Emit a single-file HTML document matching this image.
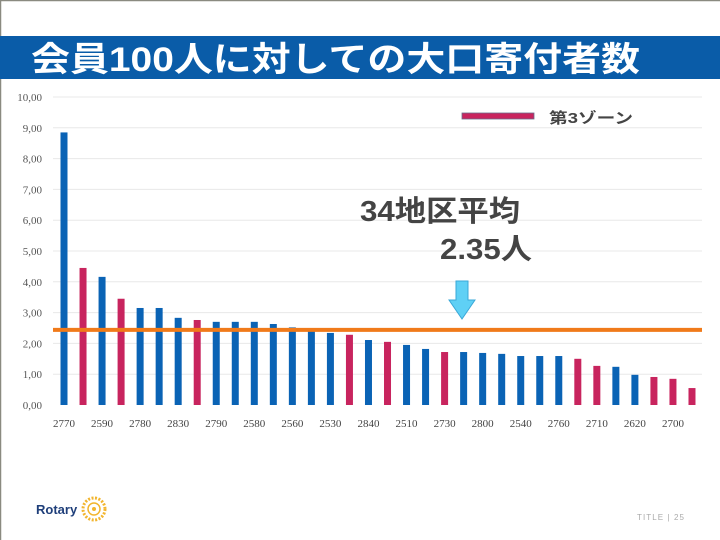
<!DOCTYPE html>
<html><head><meta charset="utf-8"><style>
html,body{margin:0;padding:0;background:#fff;}
svg{display:block;font-family:"Liberation Sans","Noto Sans CJK JP",sans-serif;}
</style></head><body>
<svg id="chart" width="720" height="540" viewBox="0 0 720 540">
<rect x="0" y="0" width="720" height="540" fill="#fff"/>
<line x1="0" y1="0.5" x2="720" y2="0.5" stroke="#8a8a80" stroke-width="1.5"/>
<line x1="0.5" y1="0" x2="0.5" y2="540" stroke="#8a8a80" stroke-width="1.5"/>
<rect x="0" y="36" width="720" height="43" fill="#0a5ca8"/>
<text x="31" y="71" fill="#fff" font-size="34" font-weight="bold" textLength="609" lengthAdjust="spacingAndGlyphs">会員100人に対しての大口寄付者数</text>
<g id="grid"></g>
<g id="bars"></g>
<g id="xlabels"></g>
<line id="avgline" stroke="#f07a1a" stroke-width="4"/>
<line x1="462" y1="116" x2="534" y2="116" stroke="#c8245e" stroke-width="6"/>
<rect x="462" y="113" width="72" height="6" fill="none" stroke="#6b6b8a" stroke-width="0.8"/>
<text x="549" y="123" font-size="15" font-weight="bold" fill="#444" textLength="84" lengthAdjust="spacingAndGlyphs">第3ゾーン</text>
<text x="360" y="221" font-size="29" font-weight="bold" fill="#444" textLength="160" lengthAdjust="spacingAndGlyphs">34地区平均</text>
<text x="440" y="259" font-size="29" font-weight="bold" fill="#444" textLength="92" lengthAdjust="spacingAndGlyphs">2.35人</text>
<path d="M456 281 H468 V300 H475 L462 319 L449 300 H456 Z" fill="#5fd0f5" stroke="#3aa8d8" stroke-width="1"/>
<text x="36" y="514" font-size="13" font-weight="bold" fill="#1f3f7a">Rotary</text>
<g>
<circle cx="94" cy="509" r="11" fill="none" stroke="#f2b52e" stroke-width="3" stroke-dasharray="2 1.5"/>
<circle cx="94" cy="509" r="6" fill="none" stroke="#f2b52e" stroke-width="1.5"/>
<circle cx="94" cy="509" r="2" fill="#f2b52e"/>
</g>
<text x="637" y="520" font-size="8" fill="#aaa" textLength="47" lengthAdjust="spacing">TITLE  |  25</text>
</svg>
<script>
const categories=["2770","b2","2590","b4","2780","b6","2830","b8","2790","b10","2580","b12","2560","b14","2530","b16","2840","b18","2510","b20","2730","b22","2800","b24","2540","b26","2760","b28","2710","b30","2620","b32","2700","b34"];
const values=[8.85,4.45,4.16,3.45,3.15,3.15,2.83,2.76,2.70,2.70,2.70,2.63,2.52,2.40,2.34,2.28,2.11,2.05,1.95,1.82,1.72,1.72,1.69,1.66,1.59,1.59,1.59,1.50,1.27,1.24,0.98,0.91,0.85,0.55];
const zone3=[0,1,0,1,0,0,0,1,0,0,0,0,0,0,0,1,0,1,0,0,1,0,0,0,0,0,0,1,1,0,0,1,1,1];
const yTicks=["0,00","1,00","2,00","3,00","4,00","5,00","6,00","7,00","8,00","9,00","10,00"];
const average=[2.44];
const NS="http://www.w3.org/2000/svg";
const y0=405,yTop=97,yMax=10;
function yScale(v){return y0-(v/yMax)*(y0-yTop);}
function xScale(i){return 64+i*19.03;}
const grid=document.getElementById('grid');
yTicks.forEach((t,i)=>{
 const y=yScale(i);
 if(i>0){const l=document.createElementNS(NS,'line');
 l.setAttribute('x1',53);l.setAttribute('x2',702);l.setAttribute('y1',y);l.setAttribute('y2',y);
 l.setAttribute('stroke','#e8e8e8');l.setAttribute('stroke-width',1);
 
 
 grid.appendChild(l);}
 const tx=document.createElementNS(NS,'text');
 tx.setAttribute('x',42);tx.setAttribute('y',y+4);tx.setAttribute('text-anchor','end');
 tx.setAttribute('font-size',11);tx.setAttribute('fill','#555');
 tx.setAttribute('font-family','"Liberation Serif",serif');
 tx.textContent=t;
 
 
 grid.appendChild(tx);
});
const bars=document.getElementById('bars'),xl=document.getElementById('xlabels');
values.forEach((v,i)=>{
 const r=document.createElementNS(NS,'rect');
 const x=xScale(i);
 r.setAttribute('x',x-3.5);r.setAttribute('width',7);
 r.setAttribute('y',yScale(v));r.setAttribute('height',y0-yScale(v));
 r.setAttribute('fill',zone3[i]?'#c8245e':'#0a63b5');
 
 
 bars.appendChild(r);
 if(i%2===0){
  const t=document.createElementNS(NS,'text');
  t.setAttribute('x',x);t.setAttribute('y',427);t.setAttribute('text-anchor','middle');
  t.setAttribute('font-size',11);t.setAttribute('fill','#444');
  t.setAttribute('font-family','"Liberation Serif",serif');
  t.textContent=categories[i];
  
  
  xl.appendChild(t);
 }
});
const al=document.getElementById('avgline');
al.setAttribute('x1',53);al.setAttribute('x2',702);
al.setAttribute('y1',yScale(average[0]));al.setAttribute('y2',yScale(average[0]));
</script>
</body></html>
